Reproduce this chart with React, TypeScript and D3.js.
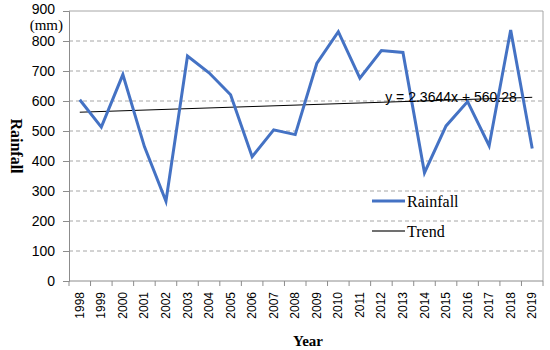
import React, { useEffect, useRef } from "react";
import * as d3 from "d3";

// rainfall per year (mm)
const years = [
  "1998", "1999", "2000", "2001", "2002", "2003", "2004", "2005", "2006", "2007", "2008",
  "2009", "2010", "2011", "2012", "2013", "2014", "2015", "2016", "2017", "2018", "2019",
];
const rainfall = [
  604, 513, 688, 448, 266, 750, 694, 621, 414, 504, 488,
  725, 831, 676, 768, 762, 361, 517, 598, 451, 837, 442,
];
const yTicks = [0, 100, 200, 300, 400, 500, 600, 700, 800, 900];
const trendSlope = 2.3644;
const trendIntercept = 560.28;

const width = 550;
const height = 350;
const margin = { top: 11, right: 7, bottom: 69, left: 69 };

export default function App() {
  const ref = useRef<SVGSVGElement>(null);

  useEffect(() => {
    const svg = d3.select(ref.current);
    svg.selectAll("*").remove();

    const x = d3.scaleBand()
      .domain(years)
      .range([margin.left, width - margin.right]);

    const y = d3.scaleLinear()
      .domain([0, 900])
      .range([height - margin.bottom, margin.top]);

    const cx = (d: string) => (x(d) as number) + x.bandwidth() / 2;

    // dashed grid
    svg.append("g")
      .selectAll("line")
      .data(yTicks.filter(t => t > 0 && t < 900))
      .join("line")
      .attr("x1", margin.left)
      .attr("x2", width - margin.right)
      .attr("y1", d => y(d))
      .attr("y2", d => y(d))
      .attr("stroke", "#a6a6a6")
      .attr("stroke-dasharray", "4,3")
      .attr("stroke-width", 1);

    // box top + right
    svg.append("path")
      .attr("d", `M${margin.left},${y(900)}H${width - margin.right}V${y(0)}`)
      .attr("fill", "none")
      .attr("stroke", "#a6a6a6");

    // y axis
    const yAxis = svg.append("g")
      .attr("transform", `translate(${margin.left},0)`)
      .call(d3.axisLeft(y).tickValues(yTicks).tickSize(6).tickPadding(8));
    yAxis.select(".domain").attr("stroke", "#8c8c8c");
    yAxis.selectAll(".tick line").attr("stroke", "#8c8c8c");
    yAxis.selectAll("text")
      .attr("font-family", "Liberation Sans, Arial, sans-serif")
      .attr("font-size", 14)
      .attr("fill", "#000");
    yAxis.selectAll(".tick")
      .filter(d => d === 900)
      .select("text")
      .attr("dy", "0.2em");

    // x axis, ticks on band boundaries
    const xg = svg.append("g");
    xg.append("line")
      .attr("x1", margin.left)
      .attr("x2", width - margin.right)
      .attr("y1", y(0))
      .attr("y2", y(0))
      .attr("stroke", "#8c8c8c");
    xg.selectAll(".xt")
      .data([...years.map(d => x(d) as number), width - margin.right])
      .join("line")
      .attr("class", "xt")
      .attr("x1", d => d)
      .attr("x2", d => d)
      .attr("y1", y(0))
      .attr("y2", y(0) + 5)
      .attr("stroke", "#8c8c8c");
    xg.selectAll("text")
      .data(years)
      .join("text")
      .attr("transform", d => `translate(${cx(d)},${y(0) + 11}) rotate(-90)`)
      .attr("text-anchor", "end")
      .attr("dominant-baseline", "central")
      .attr("font-family", "Liberation Sans, Arial, sans-serif")
      .attr("font-size", 12)
      .text(d => d);

    // trend line
    const n = years.length;
    svg.append("line")
      .attr("x1", cx(years[0]))
      .attr("x2", cx(years[n - 1]))
      .attr("y1", y(trendSlope * 1 + trendIntercept))
      .attr("y2", y(trendSlope * n + trendIntercept))
      .attr("stroke", "#000")
      .attr("stroke-width", 1);

    // rainfall line
    const line = d3.line<number>()
      .x((_, i) => cx(years[i]))
      .y(d => y(d));
    svg.append("path")
      .datum(rainfall)
      .attr("d", line)
      .attr("fill", "none")
      .attr("stroke", "#4472c4")
      .attr("stroke-width", 3)
      .attr("stroke-linejoin", "miter");

    // equation
    svg.append("text")
      .attr("x", 451)
      .attr("y", 102)
      .attr("text-anchor", "middle")
      .attr("font-family", "Liberation Sans, Arial, sans-serif")
      .attr("font-size", 14)
      .text(`y = ${trendSlope}x + ${trendIntercept}`);

    // legend
    const legend = [
      { label: "Rainfall", color: "#4472c4", w: 3 },
      { label: "Trend", color: "#404040", w: 1.5 },
    ];
    legend.forEach((l, i) => {
      const ly = 201 + i * 30;
      svg.append("line")
        .attr("x1", 372).attr("x2", 405)
        .attr("y1", ly).attr("y2", ly)
        .attr("stroke", l.color)
        .attr("stroke-width", l.w);
      svg.append("text")
        .attr("x", 407)
        .attr("y", ly + 5.5)
        .attr("font-family", "Liberation Serif, Times New Roman, serif")
        .attr("font-size", 16)
        .text(l.label);
    });

    // unit + axis titles
    svg.append("text")
      .attr("x", 63)
      .attr("y", 30)
      .attr("text-anchor", "end")
      .attr("font-family", "Liberation Serif, Times New Roman, serif")
      .attr("font-size", 15)
      .text("(mm)");

    svg.append("text")
      .attr("transform", "translate(16,146) rotate(90)")
      .attr("text-anchor", "middle")
      .attr("dominant-baseline", "central")
      .attr("font-family", "Liberation Serif, Times New Roman, serif")
      .attr("font-weight", "bold")
      .attr("font-size", 16)
      .text("Rainfall");

    svg.append("text")
      .attr("x", 308)
      .attr("y", 346)
      .attr("text-anchor", "middle")
      .attr("font-family", "Liberation Serif, Times New Roman, serif")
      .attr("font-weight", "bold")
      .attr("font-size", 15)
      .text("Year");
  }, []);

  return (
    <svg
      ref={ref}
      width={width}
      height={height}
      style={{ position: "absolute", left: 0, top: 0, background: "#fff" }}
    />
  );
}
